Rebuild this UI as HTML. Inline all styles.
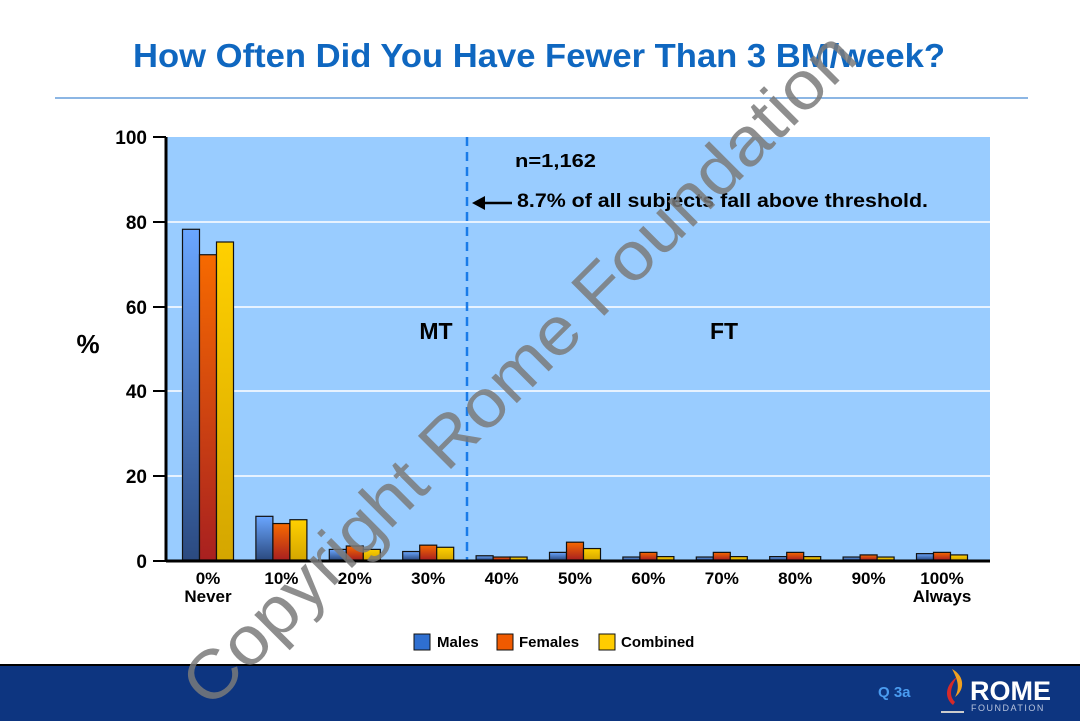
<!DOCTYPE html>
<html><head><meta charset="utf-8"><style>
body{margin:0;width:1080px;height:721px;overflow:hidden;background:#fff;font-family:"Liberation Sans",Arial,sans-serif;position:relative}
</style></head><body>
<svg width="1080" height="721" viewBox="0 0 1080 721" style="position:absolute;left:0;top:0" font-family="Liberation Sans, Arial, sans-serif">
<defs>
<linearGradient id="gb" x1="0" y1="0" x2="0" y2="1"><stop offset="0" stop-color="#6aa6ff"/><stop offset="1" stop-color="#2b4a80"/></linearGradient>
<linearGradient id="go" x1="0" y1="0" x2="0" y2="1"><stop offset="0" stop-color="#f76a00"/><stop offset="1" stop-color="#a82020"/></linearGradient>
<linearGradient id="gy" x1="0" y1="0" x2="0" y2="1"><stop offset="0" stop-color="#ffd000"/><stop offset="1" stop-color="#d4a600"/></linearGradient>
</defs>
<text x="133" y="67" font-size="33" font-weight="bold" fill="#0f67c0" textLength="812" lengthAdjust="spacingAndGlyphs">How Often Did You Have Fewer Than 3 BM/week?</text>
<line x1="55" y1="98" x2="1028" y2="98" stroke="#1a6ec8" stroke-width="1"/>
<rect x="166" y="137" width="824" height="424" fill="#99ccff"/>
<g stroke="#fff" stroke-width="1.5">
<line x1="166" y1="222" x2="990" y2="222"/><line x1="166" y1="307" x2="990" y2="307"/>
<line x1="166" y1="391" x2="990" y2="391"/><line x1="166" y1="476" x2="990" y2="476"/>
</g>
<line x1="467" y1="137" x2="467" y2="561" stroke="#1a7be8" stroke-width="2.5" stroke-dasharray="9,6"/>
<g id="bars" stroke="#111" stroke-width="1.2"></g>
<line x1="166" y1="137" x2="166" y2="561" stroke="#000" stroke-width="3"/>
<line x1="166" y1="561" x2="990" y2="561" stroke="#000" stroke-width="3"/>
<g stroke="#000" stroke-width="2">
<line x1="153" y1="137" x2="166" y2="137"/><line x1="153" y1="222" x2="166" y2="222"/><line x1="153" y1="307" x2="166" y2="307"/><line x1="153" y1="391" x2="166" y2="391"/><line x1="153" y1="476" x2="166" y2="476"/><line x1="153" y1="561" x2="166" y2="561"/>
</g>
<g font-size="19" font-weight="bold" text-anchor="end" fill="#000">
<text x="147" y="144">100</text><text x="147" y="229">80</text><text x="147" y="314">60</text><text x="147" y="398">40</text><text x="147" y="483">20</text><text x="147" y="568">0</text>
</g>
<text x="88" y="353" font-size="26" font-weight="bold" text-anchor="middle">%</text>
<g font-size="17" font-weight="bold" text-anchor="middle" id="xl"></g>
<text x="515" y="167" font-size="18" font-weight="bold" textLength="81" lengthAdjust="spacingAndGlyphs">n=1,162</text>
<text x="517" y="207" font-size="19" font-weight="bold" textLength="411" lengthAdjust="spacingAndGlyphs">8.7% of all subjects fall above threshold.</text>
<line x1="512" y1="203" x2="478" y2="203" stroke="#000" stroke-width="2.5"/>
<polygon points="472,203 485,196 485,210" fill="#000"/>
<text x="436" y="339" font-size="23" font-weight="bold" text-anchor="middle">MT</text>
<text x="724" y="339" font-size="23" font-weight="bold" text-anchor="middle">FT</text>
<g font-size="15" font-weight="bold">
<rect x="414" y="634" width="16" height="16" fill="#2f6fd0" stroke="#111"/><text x="437" y="647">Males</text>
<rect x="497" y="634" width="16" height="16" fill="#f05a00" stroke="#111"/><text x="519" y="647">Females</text>
<rect x="599" y="634" width="16" height="16" fill="#ffcc00" stroke="#111"/><text x="621" y="647">Combined</text>
</g>
<rect x="0" y="664" width="1080" height="57" fill="#0d3580"/>
<line x1="0" y1="665" x2="1080" y2="665" stroke="#000" stroke-width="2"/>
<text x="878" y="697" font-size="15" font-weight="bold" fill="#4a9cf0">Q 3a</text>
<path d="M957,677 C945,685 944,698 953,705 L955,702 C949,696 950,688 957,677Z" fill="#d42a2a"/>
<path d="M952,669 C965,676 965,690 955,697 C960,688 958,680 952,669Z" fill="#f0a020"/>
<rect x="941" y="711" width="23" height="2" fill="#ccc"/>
<text x="970" y="700" font-size="27" font-weight="bold" fill="#fff">ROME</text>
<text x="971" y="711" font-size="9" fill="#b8c4dd" letter-spacing="1.5">FOUNDATION</text>
<text x="535" y="385" font-size="68" fill="#7a7a7a" fill-opacity="0.85" text-anchor="middle" textLength="920" lengthAdjust="spacingAndGlyphs" transform="rotate(-45 535 385)">Copyright Rome Foundation</text>
</svg>
<script>
var d=[[78,72,75],[10.3,8.6,9.5],[2.5,3.3,2.5],[2,3.5,3],[1,0.7,0.7],[1.8,4.2,2.7],[0.7,1.8,0.8],[0.7,1.8,0.8],[0.8,1.8,0.8],[0.7,1.2,0.7],[1.5,1.8,1.2]];
var lab=["0%","10%","20%","30%","40%","50%","60%","70%","80%","90%","100%"];
var g=document.getElementById("bars"),xl=document.getElementById("xl"),ns="http://www.w3.org/2000/svg",f=["url(#gb)","url(#go)","url(#gy)"];
d.forEach(function(v,i){var c=208+i*73.4;v.forEach(function(y,j){var r=document.createElementNS(ns,"rect");var h=y*4.24;r.setAttribute("x",c-25.5+j*17);r.setAttribute("y",560-h);r.setAttribute("width",17);r.setAttribute("height",h);r.setAttribute("fill",f[j]);g.appendChild(r);});
var t=document.createElementNS(ns,"text");t.setAttribute("x",c);t.setAttribute("y",584);t.textContent=lab[i];xl.appendChild(t);});
[["Never",208],["Always",942]].forEach(function(a){var t=document.createElementNS(ns,"text");t.setAttribute("x",a[1]);t.setAttribute("y",602);t.textContent=a[0];xl.appendChild(t);});
</script>
</body></html>
